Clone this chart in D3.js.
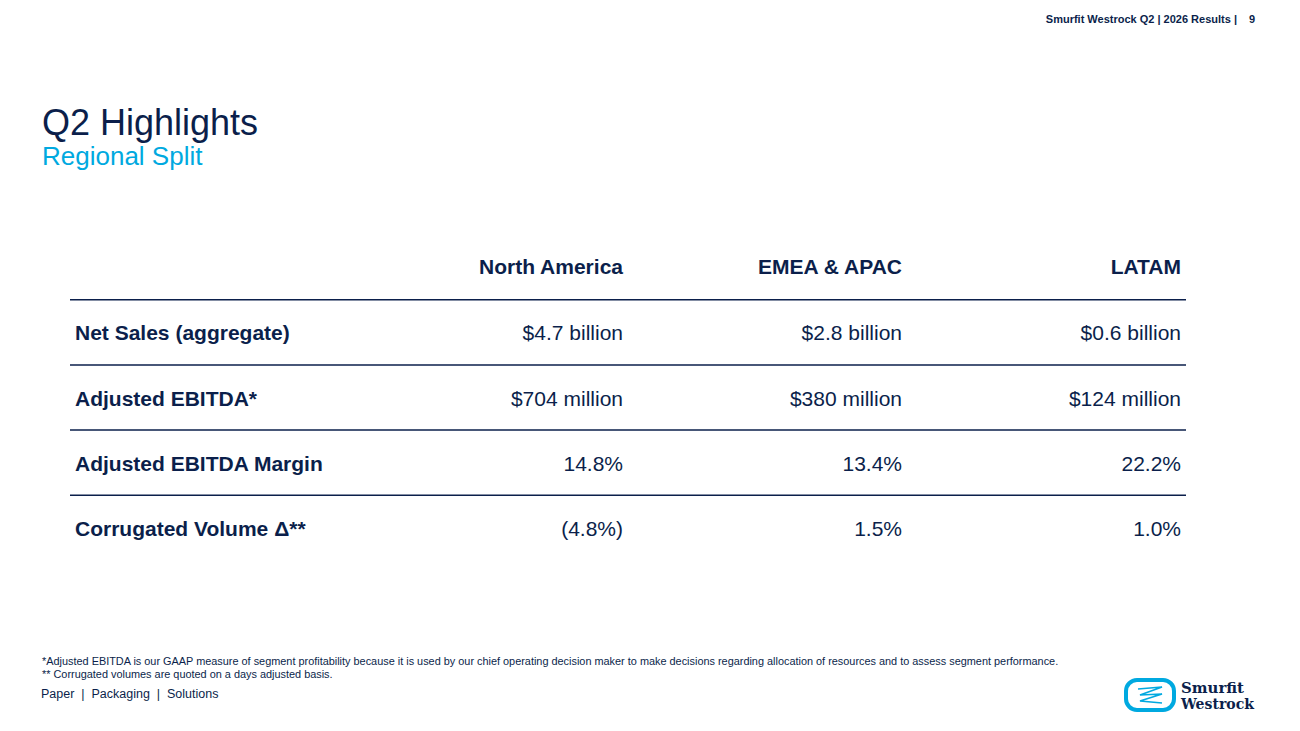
<!DOCTYPE html>
<html><head><meta charset="utf-8">
<script src="https://cdn.jsdelivr.net/npm/d3@7"></script>
<style>body{margin:0;background:#fff}svg{display:block}</style>
</head><body>
<script>
const regions = ["North America", "EMEA & APAC", "LATAM"];
const metrics = ["Net Sales (aggregate)", "Adjusted EBITDA*", "Adjusted EBITDA Margin", "Corrugated Volume Δ**"];
const northAmerica = ["$4.7 billion", "$704 million", "14.8%", "(4.8%)"];
const emeaApac = ["$2.8 billion", "$380 million", "13.4%", "1.5%"];
const latam = ["$0.6 billion", "$124 million", "22.2%", "1.0%"];
const values = [northAmerica, emeaApac, latam];
const notes = ["*Adjusted EBITDA is our GAAP measure of segment profitability because it is used by our chief operating decision maker to make decisions regarding allocation of resources and to assess segment performance.",
  "** Corrugated volumes are quoted on a days adjusted basis."];

const navy = "#0b1f4b", cyan = "#00a9e0";
const width = 1300, height = 731;
const font = "Liberation Sans, Arial, sans-serif";

const svg = d3.select("body").append("svg")
    .attr("width", width).attr("height", height)
    .style("font-family", font);

svg.append("text").attr("x", 1237).attr("y", 23).attr("text-anchor", "end")
    .attr("font-size", 11).attr("font-weight", "bold").attr("fill", navy)
    .text("Smurfit Westrock Q2 | 2026 Results |");
svg.append("text").attr("x", 1255).attr("y", 23).attr("text-anchor", "end")
    .attr("font-size", 11).attr("font-weight", "bold").attr("fill", navy).text("9");

svg.append("text").attr("x", 42).attr("y", 135).attr("font-size", 36).attr("fill", navy).text("Q2 Highlights");
svg.append("text").attr("x", 42).attr("y", 165).attr("font-size", 26).attr("fill", cyan).text("Regional Split");

// table
const x = d3.scalePoint().domain(regions).range([623, 1181]);
const y = d3.scaleBand().domain(["header"].concat(metrics)).range([234.5, 560.5]);
const left = 70, right = 1186;

svg.selectAll(".col").data(regions).join("text")
    .attr("x", d => x(d)).attr("y", y("header") + y.bandwidth() / 2 + 7)
    .attr("text-anchor", "end").attr("font-size", 21).attr("font-weight", "bold").attr("fill", navy)
    .text(d => d);

svg.selectAll(".rule").data(metrics).join("line")
    .attr("x1", left).attr("x2", right)
    .attr("y1", d => y(d)).attr("y2", d => y(d))
    .attr("stroke", navy).attr("stroke-width", 1.5);

svg.selectAll(".lab").data(metrics).join("text")
    .attr("x", 75).attr("y", d => y(d) + y.bandwidth() / 2 + 8)
    .attr("font-size", 21).attr("font-weight", "bold").attr("fill", navy)
    .text(d => d);

regions.forEach((r, i) => {
  svg.selectAll(".v" + i).data(values[i]).join("text")
      .attr("x", x(r)).attr("y", (d, j) => y(metrics[j]) + y.bandwidth() / 2 + 8)
      .attr("text-anchor", "end").attr("font-size", 21).attr("fill", navy)
      .text(d => d);
});

svg.selectAll(".note").data(notes).join("text")
    .attr("x", 42).attr("y", (d, i) => 665 + i * 13)
    .attr("font-size", 10.9).attr("fill", navy).text(d => d);

svg.append("text").attr("x", 41).attr("y", 698).attr("font-size", 12.5).attr("fill", navy)
    .attr("xml:space", "preserve").text("Paper  |  Packaging  |  Solutions");

// logo
const logo = svg.append("g").attr("transform", "translate(1126,680)");
logo.append("rect").attr("width", 48).attr("height", 30).attr("rx", 11)
    .attr("fill", "none").attr("stroke", cyan).attr("stroke-width", 4);
logo.append("path").attr("d", "M12,9 L36,7 L14,15 L36,14 L14,21 L36,23")
    .attr("fill", "none").attr("stroke", cyan).attr("stroke-width", 1.6);
logo.append("text").attr("x", 55).attr("y", 13).attr("font-family", "DejaVu Serif, serif")
    .attr("font-size", 14).attr("font-weight", "bold").attr("fill", navy)
    .attr("textLength", 63).attr("lengthAdjust", "spacingAndGlyphs").text("Smurfit");
logo.append("text").attr("x", 55).attr("y", 29).attr("font-family", "DejaVu Serif, serif")
    .attr("font-size", 14).attr("font-weight", "bold").attr("fill", navy)
    .attr("textLength", 73).attr("lengthAdjust", "spacingAndGlyphs").text("Westrock");
</script>
</body></html>
